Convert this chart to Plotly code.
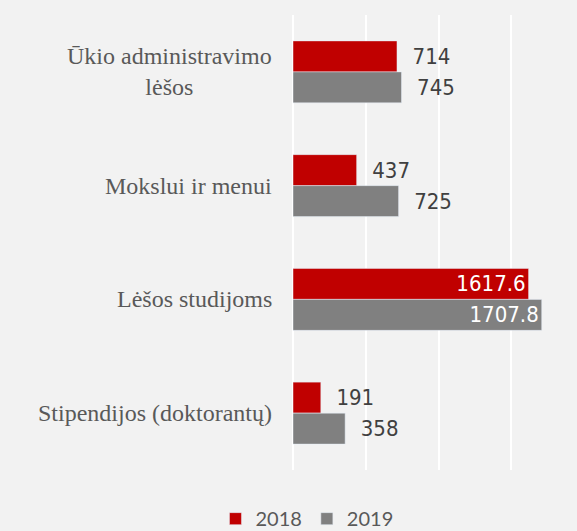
import plotly.graph_objects as go

categories = ["Ūkio administravimo<br>lėšos", "Mokslui ir menui", "Lėšos studijoms", "Stipendijos (doktorantų)"]
years = ["2018", "2019"]
values_2018 = [714, 437, 1617.6, 191]
values_2019 = [745, 725, 1707.8, 358]
positions_2018 = ["outside", "outside", "inside", "outside"]
positions_2019 = ["outside", "outside", "inside", "outside"]
colors = ["#C00000", "#808080"]

label_font = "DejaVu Sans Condensed, sans-serif"
pad = "\u00a0\u00a0"

def fmt(v):
    return ("%g" % v)

fig = go.Figure()
for name, vals, pos, col in zip(years, [values_2018, values_2019], [positions_2018, positions_2019], colors):
    texts = [(pad + fmt(v)) if p == "outside" else fmt(v) for v, p in zip(vals, pos)]
    fig.add_trace(go.Bar(
        y=categories, x=vals, name=name, orientation="h",
        marker=dict(color=col),
        text=texts, textposition=pos, insidetextanchor="end",
        textangle=0,
        insidetextfont=dict(family=label_font, size=22, color="white"),
        outsidetextfont=dict(family=label_font, size=22, color="#404040"),
        cliponaxis=False,
        hoverinfo="skip",
    ))

annotations = []
for c in categories:
    annotations.append(dict(
        x=0, xref="paper", y=c, yref="y", xanchor="right", yanchor="middle",
        xshift=-19, text=c, showarrow=False, align="center",
        font=dict(family="Liberation Serif, serif", size=24, color="#595959"),
    ))

fig.update_layout(
    width=577, height=531,
    margin=dict(l=293, r=0, t=15, b=61),
    paper_bgcolor="#F2F2F2", plot_bgcolor="#F2F2F2",
    barmode="group", bargap=0.455, bargroupgap=0,
    xaxis=dict(range=[0, 1950], dtick=500, showgrid=True, gridcolor="white",
               gridwidth=2, showticklabels=False, zeroline=True,
               zerolinecolor="white", zerolinewidth=2, showline=False, fixedrange=True),
    yaxis=dict(autorange="reversed", showticklabels=False, showgrid=False,
               categoryorder="array", categoryarray=categories, fixedrange=True),
    legend=dict(orientation="h", xref="container", yref="container",
                x=0.532, xanchor="center", y=0.06, yanchor="top",
                font=dict(family="Lato, sans-serif", size=20, color="#595959"),
                itemwidth=30, tracegroupgap=0),
    annotations=annotations,
    showlegend=True,
)

fig.write_html("out.html", config={"displayModeBar": False},
               post_script="document.body.style.margin='0';document.body.style.background='#F2F2F2';")
